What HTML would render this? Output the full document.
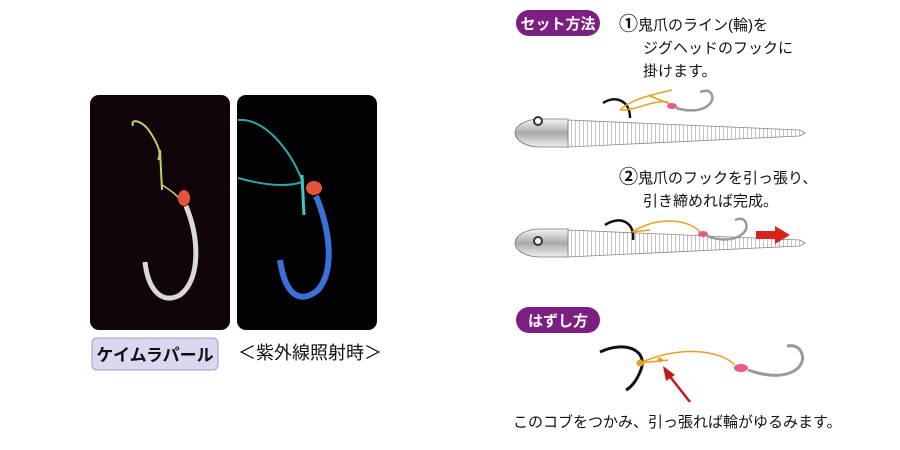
<!DOCTYPE html>
<html><head><meta charset="utf-8"><style>
body{margin:0;background:#fff;}
svg{display:block;font-family:"Liberation Sans","Noto Sans CJK JP",sans-serif;}
</style></head><body>
<svg width="900" height="450" viewBox="0 0 900 450" xmlns="http://www.w3.org/2000/svg">
<defs>
<linearGradient id="hd" x1="0" y1="0" x2="0" y2="1"><stop offset="0" stop-color="#f4f4f4"/><stop offset="0.5" stop-color="#aaa"/><stop offset="1" stop-color="#eee"/></linearGradient>
<pattern id="rib" width="4" height="40" patternUnits="userSpaceOnUse"><rect width="4" height="40" fill="#fff"/><line x1="3.5" y1="0" x2="3.5" y2="40" stroke="#aaa" stroke-width="0.7"/></pattern>
</defs>
<!-- photo 1 -->
<rect x="90" y="95" width="140" height="235" rx="9" fill="#120509"/>
<path d="M133 126 C130 118 142 120 150 132 C158 144 162 154 158 160" fill="none" stroke="#b7d36e" stroke-width="2"/>
<path d="M160 150 L162 190" stroke="#b7d36e" stroke-width="2" fill="none"/>
<path d="M162 185 C170 190 178 195 184 205" stroke="#b7d36e" stroke-width="1.5" fill="none"/>
<ellipse cx="184" cy="198" rx="6" ry="8" fill="#e8513a"/>
<path d="M186 206 C200 240 200 280 180 295 C162 305 148 290 145 262" fill="none" stroke="#d9d9d9" stroke-width="5"/>
<!-- photo 2 -->
<rect x="237" y="95" width="140" height="235" rx="9" fill="#020204"/>
<path d="M238 120 C265 118 290 150 302 180 M238 178 C260 184 285 188 302 182" fill="none" stroke="#2fa6a6" stroke-width="2"/>
<path d="M302 175 L304 215" stroke="#3cc9c0" stroke-width="3"/>
<ellipse cx="314" cy="188" rx="8" ry="7" fill="#e8513a"/>
<path d="M316 196 C330 230 335 270 318 290 C300 305 285 295 280 260" fill="none" stroke="#3c6fd8" stroke-width="6"/>
<!-- labels -->
<rect x="92" y="338" width="126" height="32" rx="5" fill="#dcd7f1" stroke="#a09bb5"/>
<text x="155" y="361" font-size="17" font-weight="bold" text-anchor="middle" fill="#111">ケイムラパール</text>
<text x="310" y="359" font-size="18" text-anchor="middle" fill="#111">＜紫外線照射時＞</text>
<!-- pill 1 -->
<rect x="516" y="10" width="84" height="26" rx="13" fill="#7b1f83"/>
<text x="558" y="29" font-size="15" font-weight="bold" fill="#fff" text-anchor="middle">セット方法</text>
<g font-size="15" fill="#111">
<text x="619" y="30"><tspan font-size="19" font-weight="bold">①</tspan>鬼爪のライン(輪)を</text>
<text x="643" y="53">ジグヘッドのフックに</text>
<text x="643" y="76">掛けます。</text>
<text x="619" y="183"><tspan font-size="19" font-weight="bold">②</tspan>鬼爪のフックを引っ張り、</text>
<text x="643" y="206">引き締めれば完成。</text>
</g>
<!-- worm 1 -->
<g>
<path d="M568 120 L800 130 L805 133 L800 136 L568 147 Z" fill="url(#rib)" stroke="#888" stroke-width="0.8"/>
<path d="M568 119 L540 119 C525 119 515 126 515 133 C515 140 525 147 540 147 L568 147 Z" fill="url(#hd)" stroke="#777" stroke-width="0.8"/>
<circle cx="538" cy="121" r="4" fill="#fff" stroke="#333" stroke-width="2"/>
<path d="M603 103 C615 95 630 100 630 118" fill="none" stroke="#111" stroke-width="2.5"/>
<path d="M620 110 C630 100 650 95 672 90 M620 110 C640 110 650 100 668 102" fill="none" stroke="#e8a020" stroke-width="1.5"/>
<path d="M650 96 L670 104" stroke="#e8a020" stroke-width="1.5"/>
<ellipse cx="672" cy="106" rx="5" ry="3" fill="#e85a8a"/>
<path d="M676 108 C700 115 715 105 712 95 C710 90 706 90 700 92" fill="none" stroke="#999" stroke-width="2.5"/>
</g>
<!-- worm 2 -->
<g>
<path d="M568 230 L800 240 L805 243 L800 246 L568 257 Z" fill="url(#rib)" stroke="#888" stroke-width="0.8"/>
<path d="M568 229 L540 229 C525 229 515 236 515 243 C515 250 525 257 540 257 L568 257 Z" fill="url(#hd)" stroke="#777" stroke-width="0.8"/>
<circle cx="538" cy="241" r="4" fill="#fff" stroke="#333" stroke-width="2"/>
<path d="M605 225 C620 215 635 222 633 240" fill="none" stroke="#111" stroke-width="2.5"/>
<path d="M632 232 C660 215 690 220 700 232" fill="none" stroke="#e8a020" stroke-width="1.5"/>
<path d="M632 232 L650 230" stroke="#e8a020" stroke-width="1.5"/>
<ellipse cx="703" cy="234" rx="5" ry="3" fill="#e85a8a"/>
<path d="M707 236 C730 245 750 235 746 223 C744 218 740 218 735 220" fill="none" stroke="#999" stroke-width="2.5"/>
<path d="M756 231 L775 231 L775 226 L790 235 L775 244 L775 239 L756 239 Z" fill="#d9221c"/>
</g>
<!-- pill 2 -->
<rect x="516" y="307" width="84" height="26" rx="13" fill="#7b1f83"/>
<text x="558" y="326" font-size="15" font-weight="bold" fill="#fff" text-anchor="middle">はずし方</text>
<path d="M600 352 C625 340 650 350 640 372 C636 382 630 388 626 390" fill="none" stroke="#111" stroke-width="3"/>
<path d="M640 363 C680 345 720 350 735 365" fill="none" stroke="#e8a020" stroke-width="1.5"/>
<path d="M640 363 L668 360" stroke="#e8a020" stroke-width="1.5"/>
<circle cx="640" cy="363" r="3.5" fill="#e8a020"/>
<circle cx="660" cy="360" r="2.5" fill="#e8a020"/>
<ellipse cx="741" cy="368" rx="7" ry="4" fill="#e85a8a"/>
<path d="M748 370 C790 385 810 365 800 350 C797 346 793 345 787 346" fill="none" stroke="#999" stroke-width="3"/>
<line x1="690" y1="402" x2="668" y2="374" stroke="#c41a1a" stroke-width="2.5"/>
<path d="M663 366 L675 375 L666 381 Z" fill="#c41a1a"/>
<text x="513" y="427" font-size="15" fill="#111">このコブをつかみ、引っ張れば輪がゆるみます。</text>
</svg>
</body></html>
